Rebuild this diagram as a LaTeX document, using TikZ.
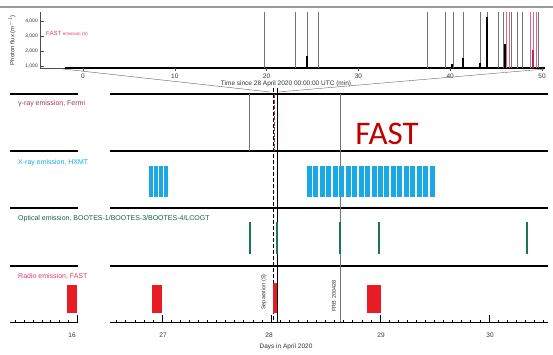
\documentclass[tikz,border=0pt]{standalone}
\usepackage{fontspec}
\setmainfont{Liberation Sans}
\newfontfamily\bigfont{Carlito}
\usetikzlibrary{positioning}

\definecolor{gammared}{RGB}{165,50,90}
\definecolor{xrayblue}{RGB}{25,170,230}
\definecolor{optgreen}{RGB}{25,120,80}
\definecolor{radiored}{RGB}{232,28,36}
\definecolor{fastpink}{RGB}{220,60,105}
\definecolor{fastred}{RGB}{192,0,0}

\begin{document}
\begin{tikzpicture}[x=1pt, y=-1pt,
    tag/.style={anchor=west, inner sep=0pt, font=\fontsize{7}{7}\selectfont},
    lab/.style={inner sep=0pt, text=black!80, font=\fontsize{6.5}{6.5}\selectfont},
    rule/.style={line width=1.3pt},
    guide/.style={draw=black!55, line width=0.5pt},
    spike/.style={black!55, line width=0.45pt},
    xbar/.style={fill=xrayblue},
    obar/.style={fill=optgreen},
    rbar/.style={fill=radiored}
  ]
  \useasboundingbox (0,0) rectangle (553,354);

  % light curve on top
  \draw[black!40, line width=1.5pt] (0,7) -- (553,7);
  \draw[black!70, line width=0.5pt] (40,12) -- (40,68) -- (545,68);
  \draw[line width=1.3pt] (65,68) -- (545,68);
  \foreach \v/\y in {4/21,3/36,2/51,1/66} {
    \draw[black!70, line width=0.4pt] (40,\y) -- (44,\y);
    \node (f\v) [lab, anchor=east, font=\fontsize{5}{5}\selectfont] at (38,\y) {\v,000};
  }
  \node (flux) [lab, rotate=90, font=\fontsize{6}{6}\selectfont] at (12,40) {Photon flux (m$^{-1}$)};
  \foreach \t in {0,10,...,50} {
    \draw[black!70, line width=0.4pt] ({83+9.18*\t},68) -- ({83+9.18*\t},71);
    \node (t\t) [lab] at ({83+9.18*\t},76) {\t};
  }
  \foreach \x in {264,295,307,318,427,445,453,463,480,487,498,503,511,517,522,538}
    \draw[spike] (\x,12) -- (\x,68);
  \foreach \x in {506,509,530,533,536}
    \draw[fastpink!80, line width=0.6pt] (\x,12) -- (\x,68);
  \draw[line width=1.4pt] (307,68) -- (307,56) (463,68) -- (463,58) (487,68) -- (487,17)
    (505,68) -- (505,44) (480,68) -- (480,63) (452,68) -- (452,64);
  \draw[gammared, line width=1.4pt] (533,68) -- (533,50);
  \node (femit) [lab, anchor=west, text=fastpink, font=\fontsize{6}{6}\selectfont] at (46,34)
    {FAST {\fontsize{4.5}{5}\selectfont emission (S)}};
  \node (tlab) [lab] at (286,84) {Time since 28 April 2020 00:00:00 UTC (min)};

  % zoom lines
  \coordinate (zl) at (63,69);
  \coordinate (zr) at (545,69);
  \coordinate (bl) at (270,92);
  \coordinate (br) at (278,92);
  \draw[black!60, line width=0.4pt] (zl) -- (bl) (zr) -- (br);

  % panels
  \foreach \y in {94,151,208,266}
    \draw[rule] (10,\y) -- (78,\y) (110,\y) -- (548,\y);
  \node (gam) [tag, text=gammared] at (18,104) {γ-ray emission, Fermi};
  \node (xray) [tag, text=xrayblue] at (18,163) {X-ray emission, HXMT};
  \node (opt) [tag, text=optgreen!80!black] at (18,219) {Optical emission, BOOTES-1/BOOTES-3/BOOTES-4/LCOGT};
  \node (rad) [tag, text=fastpink] at (18,276) {Radio emission, FAST};
  \node (big) [inner sep=0pt, text=fastred, font=\bigfont\fontsize{33}{33}\selectfont] at (387,134) {FAST};

  % vertical markers
  \draw[guide] (249,94) -- (249,151);
  \draw[guide] (340,94) -- (340,322);
  \draw[line width=0.6pt, dash pattern=on 4pt off 2pt] (273,88) -- (273,322);
  \draw[line width=0.6pt] (277,88) -- (277,322);
  \draw[gammared, line width=1.2pt, dash pattern=on 4pt off 1.5pt] (274.5,94) -- (274.5,151);

  % X-ray
  \foreach \i in {0,...,3}
    \fill[xbar] ({149+5*\i},166) rectangle ++(4,31);
  \foreach \i in {0,...,19}
    \fill[xbar] ({307+6.45*\i},166) rectangle ++(5,31);

  % optical
  \foreach \x in {250,277,340,379,527}
    \fill[obar] ({\x-1.2},222) rectangle ++(2.4,32);

  % radio
  \fill[rbar] (67,285) rectangle (77,313);
  \fill[rbar] (152,285) rectangle (162,313);
  \fill[rbar] (272.5,283) rectangle (277,313);
  \fill[rbar] (367,285) rectangle (381,313);

  % day axis
  \draw[line width=0.6pt] (10,322) -- (78,322) (110,322) -- (548,322);
  \foreach \i in {1,...,7}
    \draw[line width=0.5pt] ({77-8.8*\i},322) -- ++(0,-2.5);
  \draw[line width=0.5pt] (77,322) -- ++(0,-7);
  \foreach \i in {0,...,47}
    \draw[line width=0.5pt] ({116.6+9.08*\i},322) -- ++(0,-2.5);
  \foreach \x in {162,271,380,489}
    \draw[line width=0.5pt] (\x,322) -- ++(0,-7);
  \foreach \x/\d in {72/16,163/27,269/28,381/29,490/30}
    \node (d\d) [lab] at (\x,335) {\d};
  \node (days) [lab] at (286,347) {Days in April 2020};
  \node (sep) [lab, rotate=90, font=\fontsize{5.5}{5.5}\selectfont] at (264,292) {Separation (S)};
  \node (frb) [lab, rotate=90, font=\fontsize{5.5}{5.5}\selectfont] at (334,296) {FRB 200428};
\end{tikzpicture}
\end{document}
